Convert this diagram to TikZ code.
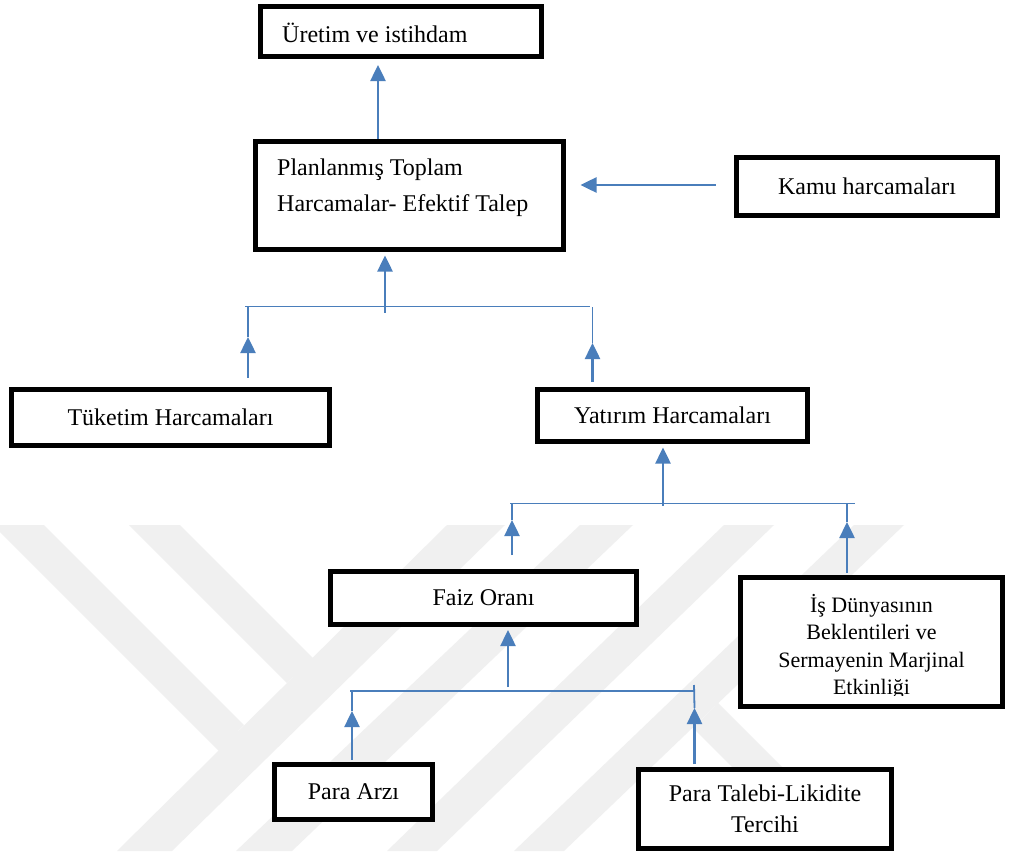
\documentclass[tikz,border=0pt]{standalone}
\usepackage{fontspec}
\setmainfont{Liberation Serif}
\usetikzlibrary{arrows.meta,calc}
\pgfdeclarelayer{bg}
\pgfsetlayers{bg,main}
\definecolor{linkblue}{RGB}{74,126,187}
\definecolor{markgray}{RGB}{240,240,240}
\begin{document}
\begin{tikzpicture}[x=1pt,y=-1pt,
  box/.style={draw=black,line width=5pt,fill=white,inner sep=0pt},
  lbl/.style={font=\fontsize{24}{30}\selectfont,inner sep=0pt},
  crossbar/.style={draw=linkblue,line width=1.8pt},
  upline/.style={draw=linkblue,line width=1.8pt},
  shaft/.style={draw=linkblue,line width=2.5pt,-{Triangle[width=15pt,length=16pt]}},
  wmark/.style={fill=markgray}]
\useasboundingbox (0,0) rectangle (1014,851);

% boxes and their texts
\node[box,minimum width=281pt,minimum height=50pt] (uretim) at (401,31.5) {};
\node[lbl,anchor=base west] (uretimtxt) at (282,43) {Üretim ve istihdam};

\node[box,minimum width=308pt,minimum height=108pt] (plan) at (409.5,195.5) {};
\node[lbl,anchor=base west] (plantxta) at (277,175) {Planlanmış Toplam};
\node[lbl,anchor=base west] (plantxtb) at (277,211) {Harcamalar- Efektif Talep};

\node[box,lbl,minimum width=261pt,minimum height=58pt] (kamu) at (867,186.5) {Kamu harcamaları};
\node[box,lbl,minimum width=318pt,minimum height=56pt] (tuketim) at (170.5,417.5) {Tüketim Harcamaları};
\node[box,lbl,minimum width=270pt,minimum height=52pt] (yatirim) at (672.5,415.5) {Yatırım Harcamaları};
\node[box,lbl,minimum width=306pt,minimum height=53pt] (faiz) at (483.5,598) {Faiz Oranı};
\node[box,minimum width=262pt,minimum height=129pt] (isd) at (871.5,642) {};
\begin{scope}
  \clip (738,577) rectangle (1003,695.5);
  \node[font=\fontsize{22}{27.5}\selectfont,align=center,inner sep=0pt] (isdtxt) at (871.5,647)
    {İş Dünyasının\\Beklentileri ve\\Sermayenin Marjinal\\Etkinliği};
\end{scope}
\node[box,lbl,minimum width=158pt,minimum height=55pt] (arz) at (353.5,792) {Para Arzı};
\node[box,minimum width=253pt,minimum height=79pt,inner sep=0pt,
      font=\fontsize{24}{31}\selectfont,align=center] (talep) at (765,808.5)
      {Para Talebi-Likidite\\Tercihi};

\begin{pgfonlayer}{bg}
  \fill[white] (0,0) rectangle (1014,851);
  % faint logo stripes
  \begin{scope}
    \clip (0,0) rectangle (1014,851);
    \fill[wmark] (-7,525) -- (44,525) -- (244,725) -- (219,751) -- cycle;
    \fill[wmark] (129,525) -- (180,525) -- (313,658) -- (287,683) -- cycle;
    \fill[wmark] (447,525) -- (505,525) -- (172,851) -- (117,851) -- cycle;
    \fill[wmark] (580,525) -- (633,525) -- (292,851) -- (236,851) -- cycle;
    \fill[wmark] (724,525) -- (774,525) -- (437,851) -- (387,851) -- cycle;
    \fill[wmark] (854,525) -- (904,525) -- (564,851) -- (514,851) -- cycle;
    \fill[wmark] (718,703) -- (866,851) -- (816,851) -- (693,728) -- cycle;
  \end{scope}

  % demand to output
  \coordinate (upx) at (378,0);
  \draw[shaft] (plan.north -| upx) -- ($(uretim.south -| upx)+(0,6)$);

  % government spending
  \coordinate (kamuout) at ($(kamu.west)+(-18.5,-1.5)$);
  \draw[shaft] (kamuout) -- ($(plan.east |- kamuout)+(14.5,0)$);

  % consumption and investment
  \coordinate (b1l) at (245,306.5);
  \coordinate (b1r) at (590,306.5);
  \coordinate (s1) at (385,312.5);
  \coordinate (t1l) at (248,337);
  \coordinate (t1r) at (592.5,343);
  \draw[crossbar] (b1l) -- (b1r);
  \draw[shaft] (s1) -- ($(plan.south -| s1)+(0,3.5)$);
  \draw[upline] (t1l) -- (t1l |- b1l);
  \draw[shaft] ($(tuketim.north -| t1l)+(0,-9.5)$) -- (t1l);
  \draw[upline] (t1r) -- (t1r |- b1r);
  \draw[shaft] ($(yatirim.north -| t1r)+(0,-5.5)$) -- (t1r);

  % interest rate and expectations
  \coordinate (b2l) at (510,503.5);
  \coordinate (b2r) at (855,503.5);
  \coordinate (s2) at (663,505.5);
  \coordinate (t2l) at (512,520);
  \coordinate (f2l) at (512,555);
  \coordinate (t2r) at (847,522);
  \draw[crossbar] (b2l) -- (b2r);
  \draw[shaft] (s2) -- ($(yatirim.south -| s2)+(0,3.5)$);
  \draw[upline] (t2l) -- (t2l |- b2l);
  \draw[shaft] (f2l) -- (t2l);
  \draw[upline] (t2r) -- (t2r |- b2r);
  \draw[shaft] ($(isd.north -| t2r)+(0,-2.5)$) -- (t2r);

  % money supply and liquidity preference
  \coordinate (b3l) at (350,691);
  \coordinate (b3r) at (694,691);
  \coordinate (s3) at (508,687);
  \coordinate (t3l) at (352,711);
  \coordinate (t3r) at (694.5,708);
  \coordinate (r3top) at (694,685);
  \draw[crossbar] (b3l) -- (b3r);
  \draw[shaft] (s3) -- ($(faiz.south -| s3)+(0,3)$);
  \draw[upline] (t3l) -- (t3l |- b3l);
  \draw[shaft] ($(arz.north -| t3l)+(0,-2.5)$) -- (t3l);
  \draw[upline] (t3r) -- (r3top);
  \draw[shaft] ($(talep.north -| t3r)+(0,-2.5)$) -- (t3r);
\end{pgfonlayer}
\end{tikzpicture}
\end{document}
